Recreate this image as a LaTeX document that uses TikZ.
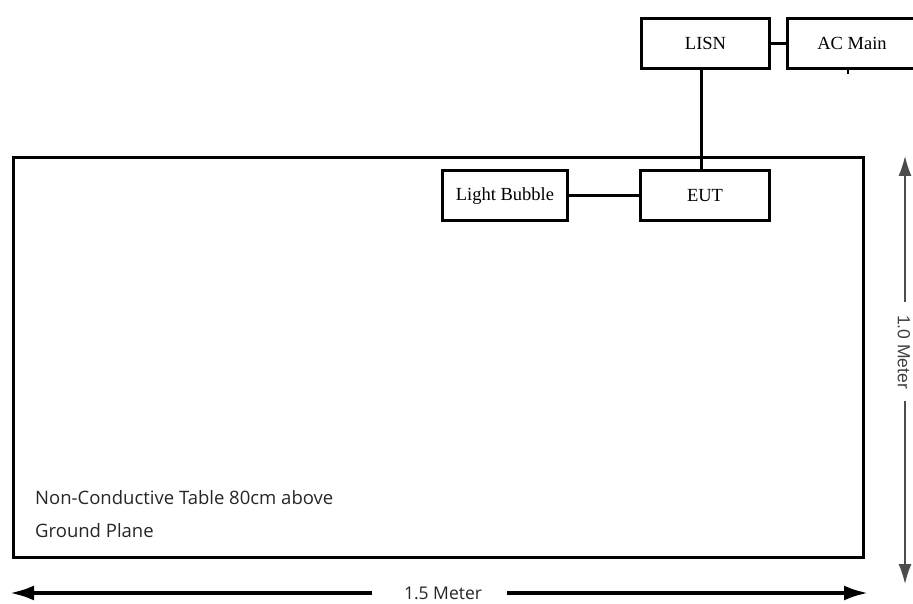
\documentclass[tikz,border=0pt]{standalone}
\usepackage{fontspec}
\setmainfont{Liberation Serif}
\newfontfamily\tablefont{Open Sans}
\newfontfamily\dimfont{Liberation Sans}
\usetikzlibrary{arrows.meta}
\begin{document}
\begin{tikzpicture}[x=1pt,y=-1pt,
  boxnode/.style={draw,line width=3pt,minimum height=50pt,inner sep=0pt,font=\fontsize{18.5}{20}\selectfont},
  wire/.style={line width=3pt},
  tabletext/.style={anchor=base west,inner sep=0pt,font=\tablefont\fontsize{18.5}{20}\selectfont,text=black!85},
  dimline/.style={line width=3.5pt,-{Latex[length=24pt,width=15pt]}},
  vdimline/.style={line width=1.5pt,draw=black!70,-{Latex[length=20pt,width=13pt]}}]
\useasboundingbox (0,0) rectangle (913,604);
\begin{scope}
\clip (0,0) rectangle (913,604);
\draw[line width=3pt] (13,158) rectangle (863,557);
\node[boxnode,minimum width=128pt] (lisn) at (705.5,43.5) {LISN};
\node[boxnode,minimum width=132pt] (ac) at (853,43.5) {\hspace*{-2pt}AC Main};
\node[boxnode,minimum width=129pt] (eut) at (705,196) {EUT};
\node[boxnode,minimum width=125pt] (lb) at (505,196) {Light Bubble};
\draw[wire] (lisn.east) -- (ac.west);
\draw[wire] (lisn.south -| 701,0) -- (eut.north -| 701,0);
\draw[wire] (lb.east) -- (eut.west);
\draw[line width=1.5pt] (ac.south -| 848,0) -- ++(0,4);
\end{scope}
\node[tabletext] (t1) at (35,504) {Non-Conductive Table 80cm above};
\node[tabletext] (t2) at (35,537) {Ground Plane};
\node[anchor=base,inner sep=0pt,font=\tablefont\fontsize{17.5}{19}\selectfont,text=black!85] (w) at (443,599) {1.5 Meter};
\coordinate (wl) at (10,593);
\coordinate (wr) at (868,593);
\draw[dimline] (372,593) -- (wl);
\draw[dimline] (507,593) -- (wr);
\node[rotate=-90,inner sep=0pt,font=\dimfont\fontsize{17.5}{19}\selectfont,text=black!75] (h) at (904,352) {1.0 Meter};
\coordinate (ht) at (905,156);
\coordinate (hb) at (905,584);
\draw[vdimline] (905,302) -- (ht);
\draw[vdimline] (905,401) -- (hb);
\end{tikzpicture}
\end{document}
